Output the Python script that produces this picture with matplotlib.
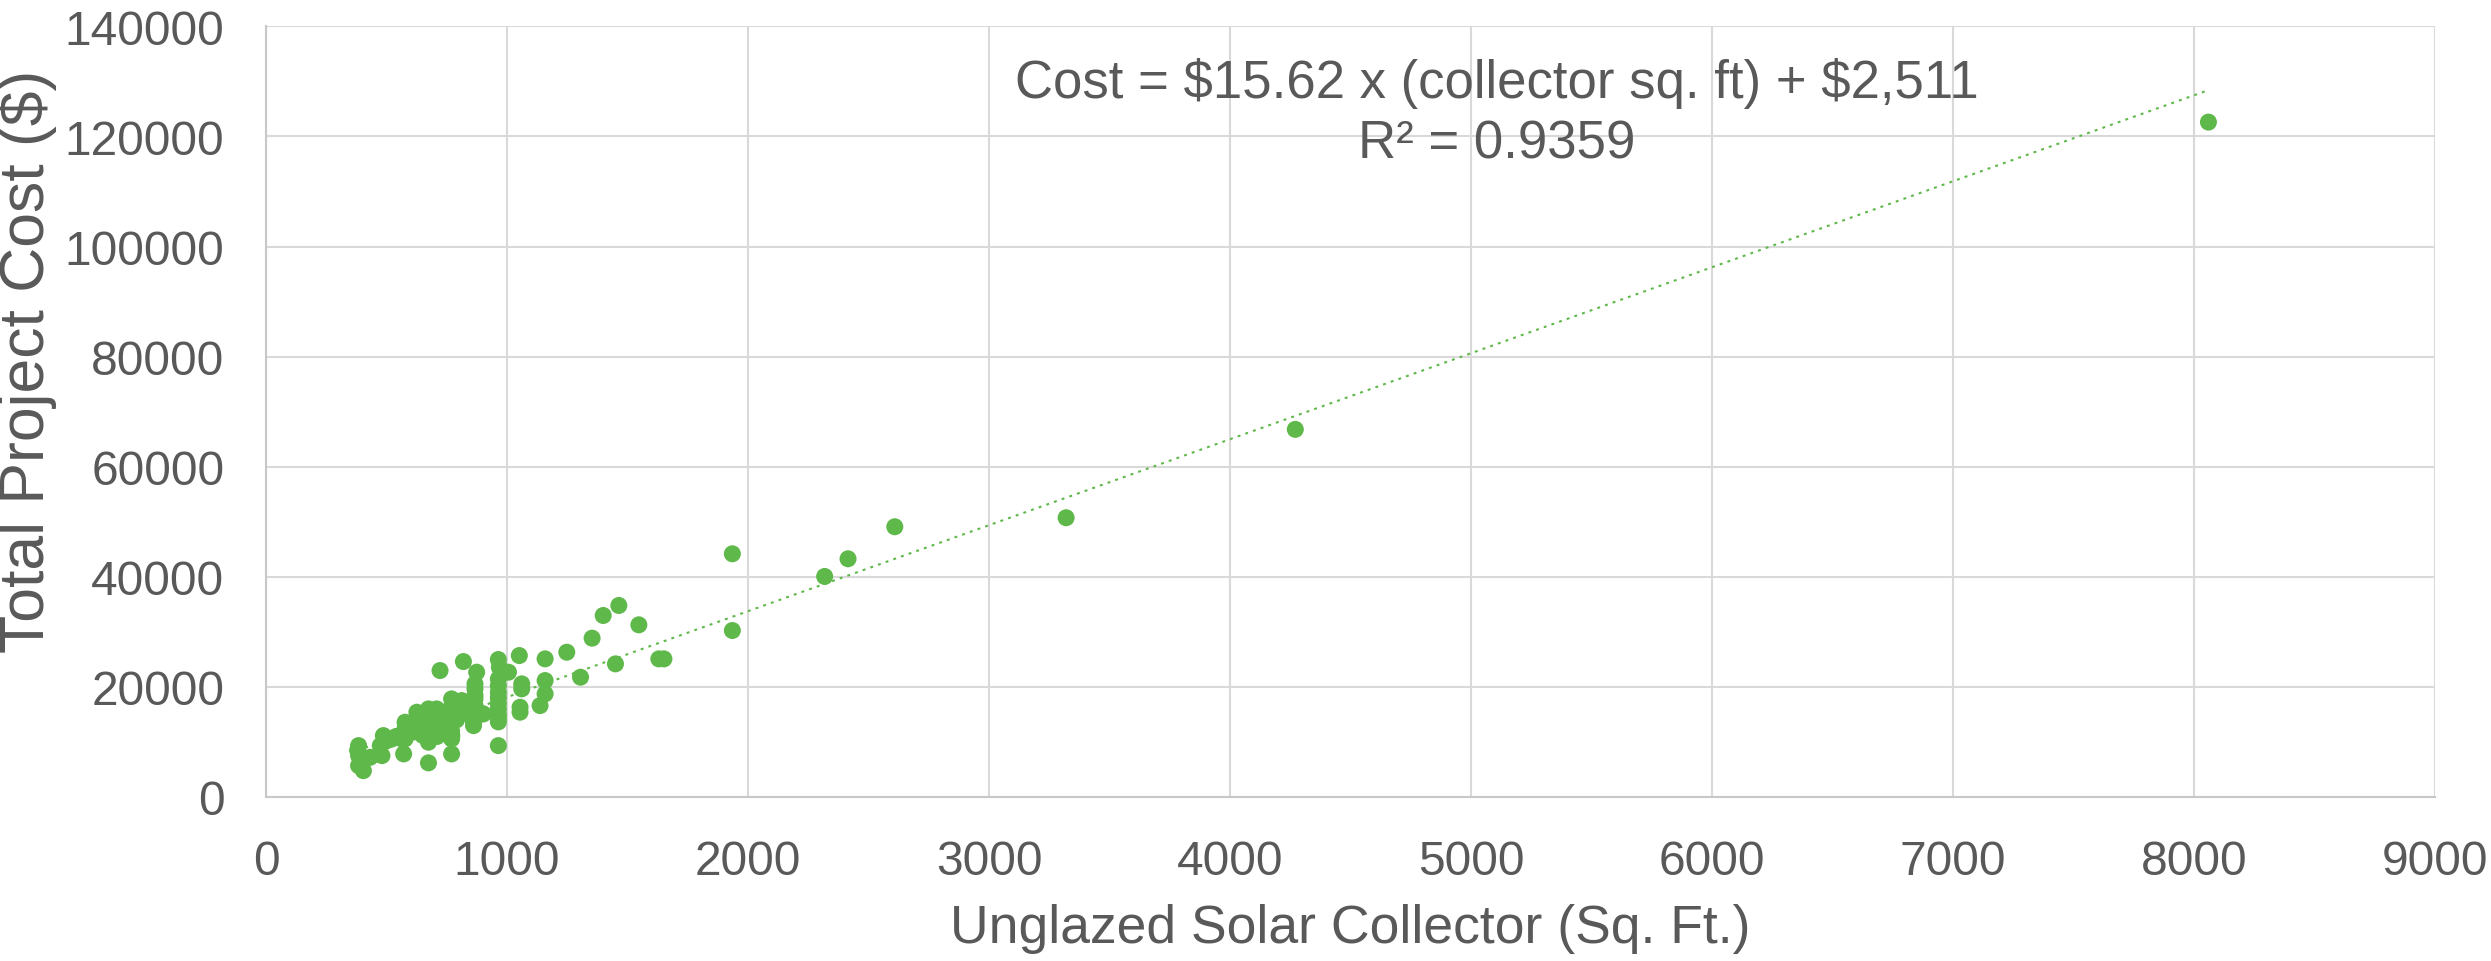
import numpy as np
import matplotlib.pyplot as plt

plt.rcParams['font.family'] = ['Liberation Sans', 'DejaVu Sans']

# collector area (sq. ft) and total project cost ($) per project
area = [384, 384, 384, 404, 380, 432, 481, 487, 474, 500, 520, 540, 560, 571,
        577, 577, 577, 577, 585, 590, 600, 610, 626, 630, 640, 650, 660, 674,
        674, 674, 680, 690, 700, 708, 710, 720, 722, 730, 740, 750, 760, 770,
        770, 770, 770, 770, 770, 770, 771, 790, 800, 812, 819, 830, 845, 861,
        861, 867, 867, 867, 867, 867, 874, 880, 896, 902, 964, 968, 964, 964,
        964, 964, 964, 964, 964, 964, 964, 964, 1006, 1051, 1061, 1061, 1054,
        1054, 1137, 1158, 1158, 1158, 1248, 1305, 1353, 1399, 1450, 1464, 1547,
        1630, 1651, 1935, 1935, 2318, 2415, 2609, 3320, 4271, 8060]
cost = [9330, 7510, 5690, 4780, 8500, 7210, 7510, 11150, 9330, 10200, 10500,
        11000, 10600, 7820, 13580, 12500, 11500, 10550, 12960, 12000, 13000,
        11800, 15400, 12500, 13800, 11200, 12800, 16000, 6200, 9950, 14500,
        12000, 13200, 16000, 11000, 14200, 22970, 12500, 15000, 13500, 11500,
        17820, 16500, 15000, 13500, 12000, 10550, 7820, 11150, 14000, 16000,
        17510, 24600, 15200, 16800, 13580, 12960, 20550, 19640, 18500, 17820,
        16600, 22670, 15500, 15090, 15090, 24970, 23580, 21450, 20200, 19000,
        18000, 17000, 16000, 15000, 14300, 13640, 9330, 22670, 25690, 20550,
        19640, 16300, 15400, 16600, 25090, 21150, 18730, 26300, 21760, 28850,
        32970, 24180, 34790, 31270, 25090, 25090, 44180, 30240, 40060, 43270,
        49090, 50730, 66780, 122600]

slope = 15.62
intercept = 2511
r2 = 0.9359

x_ticks = np.arange(0, 9001, 1000)
y_ticks = np.arange(0, 140001, 20000)

green = '#5fb84a'
text_gray = '#595959'

fig = plt.figure(figsize=(24.91, 9.62), dpi=100)
ax = fig.add_axes([0.1068, 0.1705, 0.8707, 0.8011])

ax.scatter(area, cost, s=150, color=green, edgecolors='none', zorder=3)

# linear trendline over the data range
xl = np.array([min(area), max(area)])
ax.plot(xl, slope * xl + intercept, color=green, lw=1.5,
        linestyle=(0, (1.4, 2.5)), zorder=2)

ax.text(5108, 129800, 'Cost = \\$15.62 x (collector sq. ft) + \\$2,511',
        ha='center', va='center', fontsize=38, color=text_gray)
ax.text(5108, 118700, 'R² = %.4f' % r2,
        ha='center', va='center', fontsize=38, color=text_gray)

ax.set_xlim(0, 9000)
ax.set_ylim(0, 140000)
ax.set_xticks(x_ticks)
ax.set_yticks(y_ticks)
ax.tick_params(length=0, labelsize=34.5, colors=text_gray, pad=30)
ax.grid(True, color='#d9d9d9', lw=1.5, zorder=0)
ax.set_axisbelow(True)
for s in ['top', 'right']:
    ax.spines[s].set_visible(False)
for s in ['left', 'bottom']:
    ax.spines[s].set_color('#c8c8c8')
    ax.spines[s].set_linewidth(1.5)

ax.set_xlabel('Unglazed Solar Collector (Sq. Ft.)', fontsize=38.5, color=text_gray)
ax.set_ylabel('Total Project Cost ($)', fontsize=45, color=text_gray)
ax.xaxis.set_label_coords(0.5, -0.137)
ax.yaxis.set_label_coords(-0.0965, 0.567)

fig.savefig('out.png', dpi=100)
